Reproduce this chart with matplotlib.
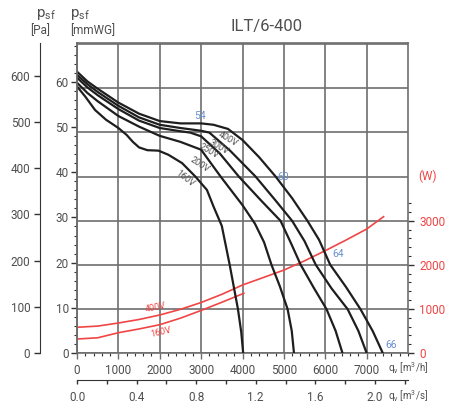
import numpy as np
import matplotlib
matplotlib.use("Agg")
import matplotlib.pyplot as plt
from matplotlib.ticker import FixedLocator, MultipleLocator

plt.rcParams['font.family'] = ['Roboto', 'DejaVu Sans']
plt.rcParams['mathtext.default'] = 'regular'

# fan curves, static pressure [Pa] vs airflow [m3/h]
q400 = [0, 250, 500, 1000, 1500, 2000, 2500, 3000, 3300, 3650, 4000, 4400, 4800, 5200, 5570, 5850, 6120, 6500, 6850, 7150, 7390]
p400 = [609, 588, 572, 542, 518, 502, 497, 497, 494, 485, 461, 424, 382, 335, 286, 245, 191, 143, 95, 47, 0]

q300 = [0, 250, 500, 1000, 1500, 2000, 2500, 3000, 3200, 3700, 4315, 4800, 5200, 5500, 5770, 6150, 6540, 6800, 7000]
p300 = [602, 582, 565, 535, 510, 494, 487, 481, 477, 438, 382, 330, 286, 242, 191, 140, 95, 48, 0]

q250 = [0, 250, 500, 1000, 1500, 2000, 2500, 2740, 3000, 3450, 3910, 4450, 4920, 5160, 5406, 5730, 6030, 6250, 6416]
p250 = [596, 575, 558, 528, 503, 487, 480, 477, 469, 432, 382, 330, 286, 240, 191, 140, 95, 48, 0]

q200 = [0, 250, 500, 1000, 1500, 2000, 2500, 3000, 3470, 4000, 4300, 4520, 4700, 4900, 5090, 5190, 5244]
p200 = [585, 563, 545, 513, 490, 470, 457, 440, 382, 320, 280, 240, 191, 145, 95, 48, 0]

q160 = [0, 200, 436, 700, 1000, 1200, 1350, 1500, 1700, 1970, 2210, 2540, 2860, 3140, 3300, 3500, 3690, 3890, 3970, 4016]
p160 = [577, 555, 526, 505, 487, 472, 457, 445, 439, 438, 429, 411, 382, 353, 317, 275, 191, 95, 45, 0]

# absorbed power [W]
qw400 = [0, 500, 1000, 1500, 2000, 2500, 3000, 3500, 4000, 4500, 5000, 5500, 6000, 6500, 7000, 7410]
w400 = [583, 610, 680, 760, 862, 990, 1145, 1330, 1542, 1710, 1880, 2090, 2320, 2560, 2810, 3091]
qw160 = [0, 500, 1000, 1500, 2000, 2500, 3000, 3500, 4032]
w160 = [317, 345, 460, 545, 642, 790, 965, 1150, 1354]

curves = [(q400, p400, '400V'), (q300, p300, '300V'), (q250, p250, '250V'),
          (q200, p200, '200V'), (q160, p160, '160V')]

txt = '#4f4f4f'
red = '#f04545'
blue = '#6a8fd0'
grid = '#6e6e6e'

W, H = 450, 408
fig = plt.figure(figsize=(4.5, 4.08), dpi=100)
rect = [77 / W, 55 / H, 331 / W, 310 / H]

# base axes: grid, airflow axis, power axis on the right
ax = fig.add_axes(rect)
ax.set_xlim(0, 8000)
ax.set_ylim(0, 7029)

# pressure curves, Pa scale on the far left
axp = ax.twinx()
# mmWG scale on the plot frame
axm = ax.twinx()

ax.yaxis.tick_right()
ax.set_xticks(range(0, 8000, 1000))
ax.xaxis.set_minor_locator(MultipleLocator(200))
ax.set_yticks(range(0, 8000, 1000), ['0', '1000', '2000', '3000', '', '', '', ''])
ax.yaxis.set_minor_locator(FixedLocator([v for v in range(200, 3600, 200) if v % 1000]))
ax.grid(True, which='major', color=grid, lw=1.2)
ax.tick_params(axis='x', which='major', length=4, width=1, color=grid, labelsize=8.5, labelcolor=txt, pad=4)
ax.tick_params(axis='x', which='minor', length=2.5, width=0.8, color='#333333')
ax.tick_params(axis='y', which='major', length=4, width=1, color='#333333', labelsize=8.5, labelcolor=red, pad=4)
ax.tick_params(axis='y', which='minor', length=2.5, width=0.8, color='#333333')
for t in ax.yaxis.get_major_ticks()[4:]:
    t.tick2line.set_visible(False)
for s in ax.spines.values():
    s.set_color(grid)
    s.set_linewidth(1.2)

ax.plot(qw400, w400, color=red, lw=1.2)
ax.plot(qw160, w160, color=red, lw=1.2)
ax.text(1900, 1020, '400V', color=red, fontsize=6.5, rotation=11, ha='center', va='center')
ax.text(2020, 470, '160V', color=red, fontsize=6.5, rotation=13, ha='center', va='center')

# airflow in m3/s
sec = ax.secondary_xaxis(-27 / 310, functions=(lambda q: q / 3600, lambda s: s * 3600))
sec.set_xticks([0.0, 0.4, 0.8, 1.2, 1.6, 2.0], ['0.0', '0.4', '0.8', '1.2', '1.6', '2.0'])
sec.xaxis.set_minor_locator(MultipleLocator(0.2))
sec.tick_params(axis='x', which='both', length=3, width=1, color='#333333', labelsize=8.5, labelcolor=txt, pad=5)
sec.spines['bottom'].set_color('#333333')

axp.set_ylim(0, 671)
axp.yaxis.tick_left()
axp.set_yticks(range(0, 700, 100))
axp.spines['left'].set_position(('outward', 37 * 0.72))
axp.spines['left'].set_visible(True)
axp.spines['left'].set_color('#333333')
for k in ('right', 'top', 'bottom'):
    axp.spines[k].set_visible(False)
axp.tick_params(axis='y', length=4, width=1, color='#333333', labelsize=8.5, labelcolor=txt, pad=3)

for q, p, lab in curves:
    axp.plot(q, p, color='#1e1e1e', lw=1.6, solid_capstyle='round')

for lab, (x, y, r) in {'400V': (3661, 463, -30), '300V': (3442, 446, -30),
                       '250V': (3176, 437, -30), '200V': (2958, 407, -33),
                       '160V': (2618, 377, -38)}.items():
    axp.text(x, y, lab, color=txt, fontsize=6.5, rotation=r, ha='center', va='center')

for lab, (x, y) in {'54': (2982, 513), '60': (4994, 381), '64': (6303, 214), '66': (7588, 17)}.items():
    axp.text(x, y, lab, color=blue, fontsize=7.5, ha='center', va='center')

axm.set_ylim(0, 68.6)
axm.yaxis.tick_left()
axm.set_yticks(range(0, 70, 10))
axm.yaxis.set_minor_locator(MultipleLocator(2))
for k in ('right', 'top', 'bottom'):
    axm.spines[k].set_visible(False)
axm.spines['left'].set_color(grid)
axm.spines['left'].set_linewidth(1.2)
axm.tick_params(axis='y', which='major', length=4, width=1, color='#333333', labelsize=8.5, labelcolor=txt, pad=2)
axm.tick_params(axis='y', which='minor', length=2.5, width=0.8, color='#333333')

# header texts
def fx(px):
    return px / W

def fy(py):
    return 1 - py / H

fig.text(fx(267), fy(27), 'ILT/6-400', color=txt, fontsize=12, ha='center', va='center')
fig.text(fx(36), fy(15), r'p$_{sf}$', color=txt, fontsize=11, ha='left', va='center')
fig.text(fx(30), fy(31), '[Pa]', color=txt, fontsize=8.5, ha='left', va='center')
fig.text(fx(70), fy(15), r'p$_{sf}$', color=txt, fontsize=11, ha='left', va='center')
fig.text(fx(70), fy(31), '[mmWG]', color=txt, fontsize=8.5, ha='left', va='center')
fig.text(fx(418), fy(176), '(W)', color=red, fontsize=8.5, ha='left', va='center')
fig.text(fx(388), fy(368), r'q$_v$ [m$^3$/h]', color=txt, fontsize=7, ha='left', va='center')
fig.text(fx(388), fy(396), r'q$_v$ [m$^3$/s]', color=txt, fontsize=7, ha='left', va='center')

fig.savefig('out.png', dpi=100)
